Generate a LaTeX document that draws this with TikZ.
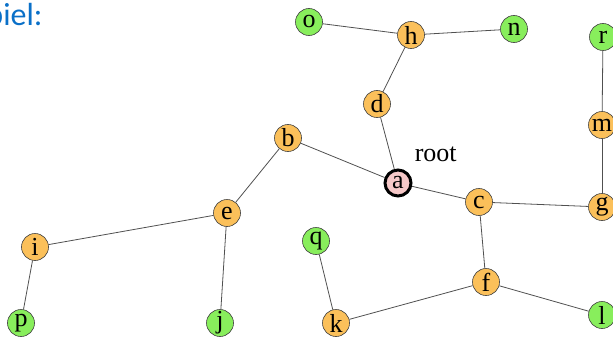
\documentclass[tikz,border=0pt]{standalone}
\usepackage{fontspec}
\setmainfont{Liberation Serif}
\newfontfamily\titlefont{Carlito}
\usetikzlibrary{positioning}
\definecolor{innerorange}{RGB}{251,192,90}
\definecolor{leafgreen}{RGB}{136,238,92}
\definecolor{rootpink}{RGB}{246,200,200}
\definecolor{titleblue}{RGB}{10,112,200}
\definecolor{edgegray}{RGB}{80,80,80}

\begin{document}
\begin{tikzpicture}[x=1pt,y=-1pt,
  every node/.style={font=\fontsize{26}{26}\selectfont},
  tree node/.style={circle,draw=black!75,line width=0.6pt,minimum size=27pt,inner sep=0pt},
  inner node/.style={tree node,fill=innerorange},
  leaf node/.style={tree node,fill=leafgreen},
  root node/.style={tree node,fill=rootpink,draw=black,line width=3pt,minimum size=26pt}]
  \useasboundingbox (0,0) rectangle (613,337);
  \node[anchor=base east,text=titleblue,font=\titlefont\fontsize{32}{32}\selectfont] (title) at (46,26) {Beispiel:};

  % inner nodes
  \node[root node] (a) at (398,183) {a};
  \node[inner node] (b) at (288,138) {b};
  \node[inner node] (c) at (479,202) {c};
  \node[inner node] (d) at (377,104) {d};
  \node[inner node] (e) at (227,213) {e};
  \node[inner node] (f) at (486,282) {f};
  \node[inner node] (g) at (602,207) {g};
  \node[inner node] (h) at (411,35) {h};
  \node[inner node] (i) at (35,247) {i};
  \node[inner node] (k) at (336,323) {k};
  \node[inner node] (m) at (602,125) {m};
  % leaves
  \node[leaf node] (j) at (220,323) {j};
  \node[leaf node] (l) at (602,315) {l};
  \node[leaf node] (n) at (514,29) {n};
  \node[leaf node] (o) at (309,22) {o};
  \node[leaf node] (p) at (21,323) {p};
  \node[leaf node] (q) at (316,241) {q};
  \node[leaf node] (r) at (603,37) {r};

  \node[above right=7pt and 3pt of a] (rootlabel) {root};

  \path[draw=edgegray,line width=0.8pt]
    (o) edge (h)
    (h) edge (n)
    (h) edge (d)
    (d) edge (a)
    (b) edge (a)
    (b) edge (e)
    (e) edge (i)
    (e) edge (j)
    (i) edge (p)
    (a) edge (c)
    (c) edge (g)
    (g) edge (m)
    (m) edge (r)
    (c) edge (f)
    (f) edge (k)
    (f) edge (l)
    (q) edge (k);
\end{tikzpicture}
\end{document}
